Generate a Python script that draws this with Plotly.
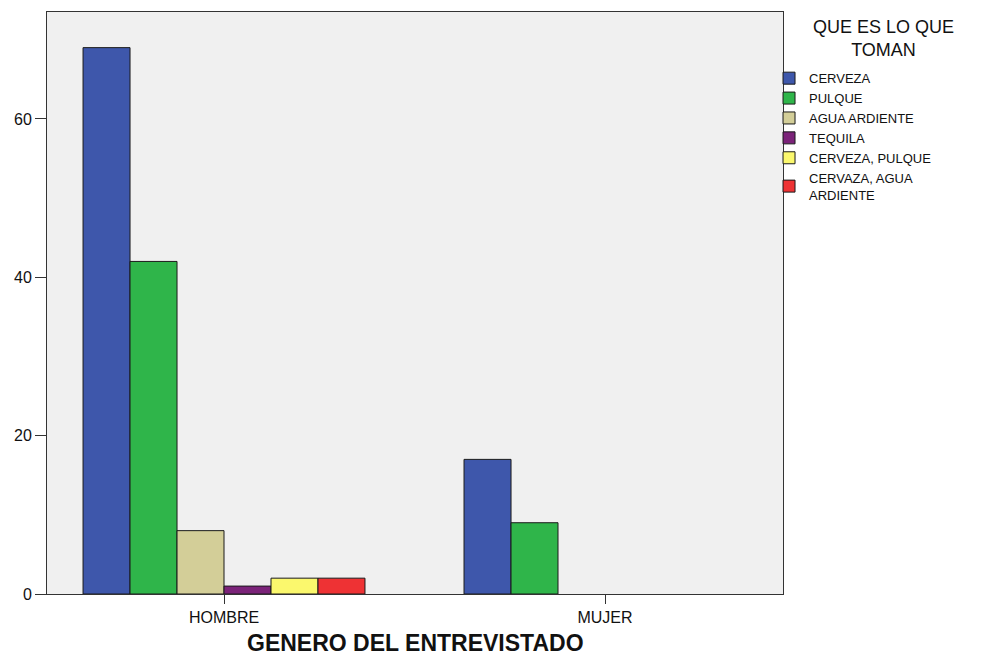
import plotly.graph_objects as go

categories = ["HOMBRE", "MUJER"]
series_names = ["CERVEZA", "PULQUE", "AGUA ARDIENTE", "TEQUILA",
                "CERVEZA, PULQUE", "CERVAZA, AGUA<br>ARDIENTE"]
cerveza = [69, 17]
pulque = [42, 9]
agua_ardiente = [8, None]
tequila = [1, None]
cerveza_pulque = [2, None]
cervaza_agua = [2, None]
series_values = [cerveza, pulque, agua_ardiente, tequila, cerveza_pulque, cervaza_agua]
colors = ["#3e57ab", "#2fb54a", "#d3ce98", "#7b2379", "#fbf86d", "#ee3234"]
y_ticks = [0, 20, 40, 60]
legend_title = "QUE ES LO QUE<br>TOMAN"
x_title = "GENERO DEL ENTREVISTADO"

fig = go.Figure()
for name, vals, col in zip(series_names, series_values, colors):
    fig.add_trace(go.Bar(
        x=categories, y=vals, name=name,
        marker=dict(color=col, line=dict(color="#1a1a1a", width=1)),
    ))

# page body has an 8px margin: figure drawn 8px right/down
W, H = 973, 650
L, T, PW, PH = 39, 4, 736, 582
font_family = "Liberation Sans, Arial, sans-serif"
fig.update_layout(
    width=W, height=H,
    barmode="group", bargap=0.26, bargroupgap=0,
    paper_bgcolor="white", plot_bgcolor="#f0f0f0",
    margin=dict(l=L, r=W - L - PW, t=T, b=H - T - PH, autoexpand=False),
    font=dict(family=font_family, color="#111111", size=14),
    showlegend=True,
    legend=dict(
        x=0.981, xanchor="left", y=0.912, yanchor="top",
        font=dict(size=13, family=font_family),
        bgcolor="rgba(0,0,0,0)", itemwidth=30,
        tracegroupgap=0,
    ),
    xaxis=dict(
        automargin=False, range=[-0.4646, 1.4672],
        showline=True, linecolor="#333333", linewidth=1, mirror=True,
        ticks="outside", ticklen=9, tickcolor="#333333",
        tickfont=dict(size=16),
    ),
    yaxis=dict(
        range=[0, 73.5], tickvals=y_ticks, automargin=False,
        showgrid=False, zeroline=False,
        showline=True, linecolor="#333333", linewidth=1, mirror=True,
        ticks="outside", ticklen=11, tickcolor="#333333",
        tickfont=dict(size=16),
    ),
)

fig.add_annotation(
    text=legend_title, xref="paper", yref="paper",
    x=(875 - L) / PW, y=(T + PH - 30.5) / PH,
    xanchor="center", yanchor="middle", showarrow=False,
    font=dict(size=18, family=font_family, color="#111111"),
)

fig.add_annotation(
    text="<b>" + x_title + "</b>", xref="paper", yref="paper",
    x=(407 - L) / PW, y=(T + PH - 635) / PH,
    xanchor="center", yanchor="middle", showarrow=False,
    font=dict(size=23, family=font_family, color="#111111"),
)

fig.write_html("out.html")
